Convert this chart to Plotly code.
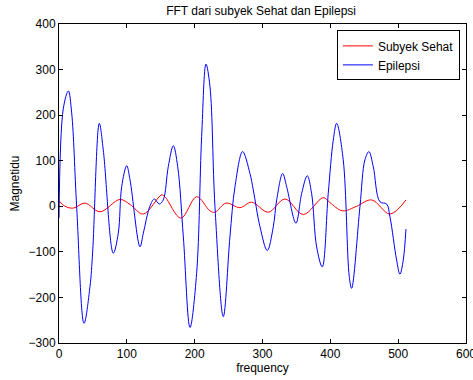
import plotly.graph_objects as go

# Epilepsi (blue) points
epi_x = [0, 6.4, 13.8, 18.7, 26, 36.9, 45.7, 49.6, 59.4, 65.3, 80, 87.4, 92.4, 99.8, 104.7,
         119.4, 124.3, 134, 140.5, 147.9, 153.7, 161.1, 168.5, 175, 183.3, 193.1, 202.9,
         210.3, 216.7, 222.6, 229.9, 242.2, 252, 259.4, 270.7, 281.5, 286.4, 296.3, 307,
         315.9, 320.9, 329.7, 335.6, 349.3, 357.7, 366, 372.4, 379.8, 388.1, 396.9, 404.3,
         409.3, 419, 427.9, 431.4, 443.7, 451, 456.9, 463.3, 473.1, 483, 487.9, 497.7,
         502.6, 507.5, 511.5]
epi_y = [-26, 215, 253, 205, 0, -257, -176, -100, 182, 123, -103, -59, 43, 89, 58,
         -89, -59, 0, 16, 5, 14, 87, 133, 87, -67, -266, -147,
         153, 312, 262, 0, -242, -67, 43, 120, 72, 36, -45, -97,
         -45, 14, 72, 43, -37, 28, 67, 28, -89, -133, 28, 145,
         182, 102, -154, -180, 0, 102, 120, 87, 10, 5, -23, -118,
         -149, -118, -50]

# Subyek Sehat (red) points
seh_x = [0, 8.8, 21, 38.3, 60.4, 89.9, 104.7, 124.3, 151.3, 156.2, 179.8, 202.9, 222.6,
         229.9, 246.2, 266.8, 284, 308.5, 333.1, 360.1, 389.6, 399.4, 418, 438.8, 460.9,
         487.9, 511.5]
seh_y = [12, 0, -4, 7, -12, 15, 4, -17, 25, 21, -26, 21, -10,
         -13, 7, -3, 9, -13, 16, -18, 19, 8, -10, 0, 14,
         -17, 14]

title_text = "FFT dari subyek Sehat dan Epilepsi"
x_ticks = [0, 100, 200, 300, 400, 500, 600]
y_ticks = [-300, -200, -100, 0, 100, 200, 300, 400]

font_family = "Liberation Sans, Arial, sans-serif"

fig = go.Figure()
fig.add_trace(go.Scatter(x=seh_x, y=seh_y, mode="lines", name="Subyek Sehat",
                         line=dict(color="#ff0000", width=1, shape="spline", smoothing=1)))
fig.add_trace(go.Scatter(x=epi_x, y=epi_y, mode="lines", name="Epilepsi",
                         line=dict(color="#0000ff", width=1, shape="spline", smoothing=1)))

axis_common = dict(showgrid=False, zeroline=False, showline=True, linecolor="black",
                   linewidth=1, mirror="ticks", ticks="inside", ticklen=4, automargin=False,
                   ticklabeloverflow="allow",
                   tickcolor="black", tickfont=dict(size=12, color="black", family=font_family))

fig.update_layout(
    width=473, height=380,
    margin=dict(l=59, r=7, t=24, b=37, autoexpand=False),
    paper_bgcolor="white", plot_bgcolor="white",
    font=dict(family=font_family, size=12, color="black"),
    title=dict(text=title_text, x=0.552, xanchor="center", y=0.972, yanchor="middle",
               font=dict(size=12, color="black", family=font_family), automargin=False),
    xaxis=dict(range=[0, 600], tickvals=x_ticks, title=dict(text="frequency", standoff=3,
               font=dict(size=12)), **axis_common),
    yaxis=dict(range=[-300, 400], tickvals=y_ticks, title=dict(text="Magnetidu", standoff=6,
               font=dict(size=12)), **axis_common),
    legend=dict(x=0.985, y=0.98, xanchor="right", yanchor="top", bgcolor="white",
                bordercolor="black", borderwidth=1, font=dict(size=12, color="black"),
                tracegroupgap=0, itemwidth=30),
    showlegend=True,
)

fig.write_html("out.html", config={"displayModeBar": False},
               post_script="document.body.style.margin='0';document.body.style.overflow='hidden';")
